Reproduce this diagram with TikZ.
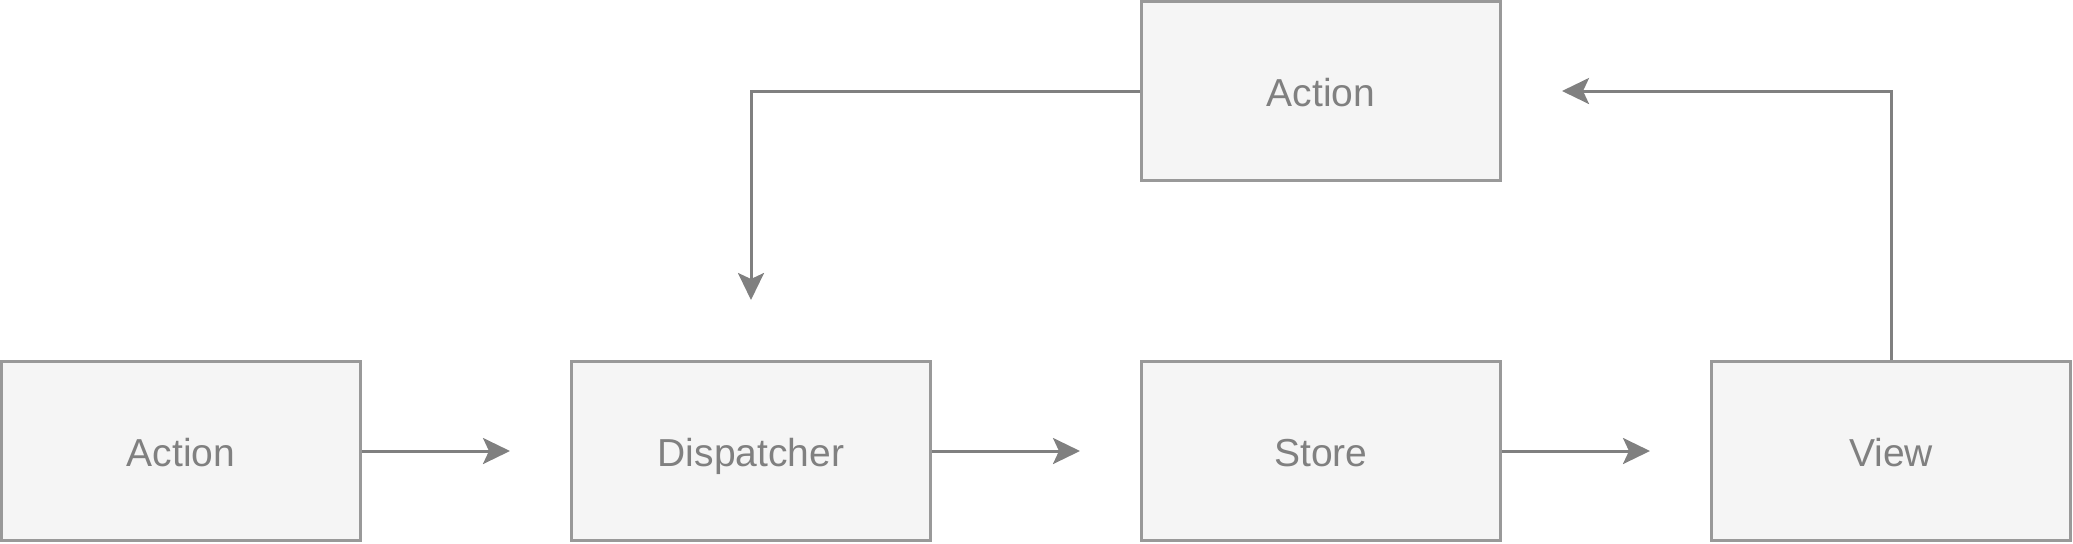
\documentclass[tikz,border=0pt]{standalone}
\usepackage{fontspec}
\setmainfont{Liberation Sans}
\usetikzlibrary{positioning}
\usetikzlibrary{arrows.meta}
\definecolor{boxgray}{HTML}{999999}
\definecolor{boxfill}{HTML}{F5F5F5}
\definecolor{linegray}{HTML}{808080}
\definecolor{textgray}{HTML}{808080}
\tikzset{
    flowbox/.style = {rectangle, line width=1.5pt, draw=boxgray, fill=boxfill, align=center, minimum width=179.5pt, minimum height=89.5pt, text height=15.5pt, text depth=0pt, font=\fontsize{19.5}{23}\selectfont, text=textgray},
    edgef/.style = {-{Stealth[length=13.5pt,width=13pt,inset=3pt]}, line width=1.5pt, linegray, shorten >=30pt},
}
\begin{document}
\begin{tikzpicture}[x=0.5pt, y=-0.5pt]
    \useasboundingbox (0,0) rectangle (2073,543);

  \node[flowbox] (act) at (181,451) {Action};
  \node[flowbox, right=104pt of act] (disp) {Dispatcher};
  \node[flowbox, right=104pt of disp] (store) {Store};
  \node[flowbox, right=104pt of store] (view) {View};
  \node[flowbox, above=89pt of store] (topact) {Action};

  \draw[edgef] (act) -- (disp);
  \draw[edgef] (disp) -- (store);
  \draw[edgef] (store) -- (view);
  \draw[edgef] (view.north) |- (topact.east);
  \draw[edgef] (topact.west) -| (disp.north);

\end{tikzpicture}
\end{document}
